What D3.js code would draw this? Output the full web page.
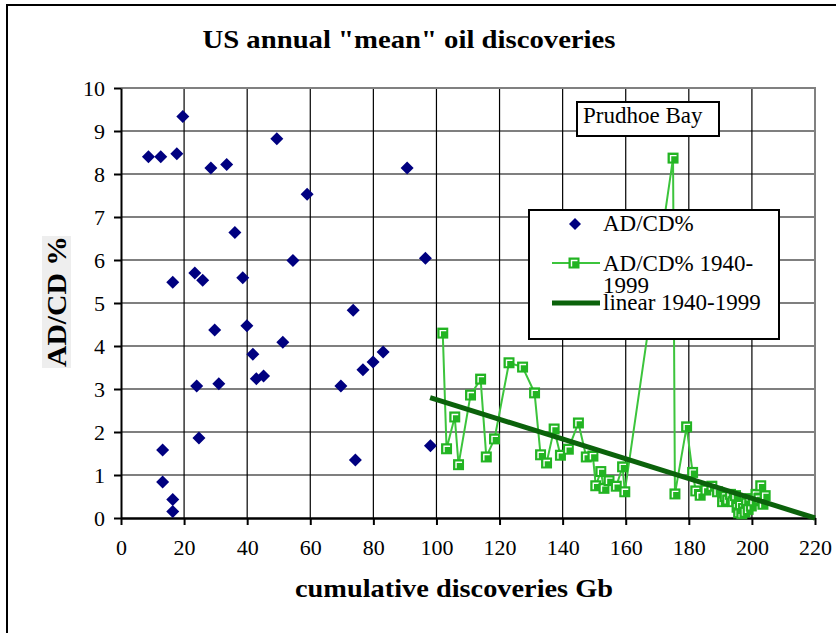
<!DOCTYPE html>
<html><head><meta charset="utf-8">
<script src="https://cdn.jsdelivr.net/npm/d3@7"></script>
<style>body{margin:0;background:#fff}svg{display:block}</style>
</head><body>
<svg id="c" width="836" height="633"></svg>
<script>
// ---- data ----
const allX = [8.7,12.6,17.7,19.6,28.5,33.5,49.4,59.0,36.1,54.5,16.4,23.4,25.9,38.6,29.7,39.9,51.3,41.8,42.9,45.2,24.0,31.0,69.7,24.7,13.2,13.2,16.4,16.4,73.6,83.1,79.9,76.7,74.3,98.1,90.7,96.5];
const allY = [8.40,8.40,8.47,9.34,8.14,8.22,8.82,7.53,6.64,5.99,5.48,5.70,5.53,5.59,4.37,4.47,4.09,3.81,3.24,3.30,3.07,3.12,3.07,1.86,1.58,0.84,0.43,0.15,4.83,3.86,3.63,3.45,1.35,1.68,8.14,6.04];
const recX = [102.0,103.2,105.8,107.0,110.8,114.0,115.8,118.4,123.0,127.3,131.1,133.0,134.9,137.3,139.3,141.8,145.0,147.5,149.6,150.5,152.1,153.1,154.7,157.0,159.0,159.7,175.0,175.6,179.3,181.2,182.2,183.6,185.4,187.3,189.1,190.7,191.5,192.3,193.2,194.0,194.8,195.3,195.8,196.3,196.8,197.3,197.8,198.3,198.8,199.3,199.8,200.5,201.3,202.2,202.8,203.5,204.2];
const recY = [4.30,1.61,2.35,1.24,2.86,3.23,1.42,1.84,3.61,3.51,2.91,1.47,1.28,2.07,1.46,1.60,2.21,1.42,1.44,0.75,1.08,0.69,0.87,0.74,1.19,0.61,8.37,0.56,2.12,1.06,0.63,0.53,0.65,0.74,0.61,0.38,0.50,0.42,0.55,0.38,0.52,0.25,0.12,0.30,0.10,0.22,0.14,0.35,0.20,0.45,0.28,0.40,0.55,0.45,0.75,0.32,0.52];
const trendX = [98, 220];
const trendY = [2.80, 0];
const xTicks = [0,20,40,60,80,100,120,140,160,180,200,220];
const yTicks = [0,1,2,3,4,5,6,7,8,9,10];
const title = 'US annual "mean" oil discoveries';
const xTitle = 'cumulative discoveries Gb';
const yTitle = 'AD/CD %';
const seriesNames = ['AD/CD%', 'AD/CD% 1940-', '1999', 'linear 1940-1999'];
const annotation = 'Prudhoe Bay';

// ---- drawing ----
const FONT = '"Liberation Serif", "Times New Roman", Tinos, Times, "DejaVu Serif", "Noto Serif", serif';
const svg = d3.select('#c');
const L = 121, R = 815, T = 88, B = 518;
const x = d3.scaleLinear().domain([0,220]).range([L,R]);
const y = d3.scaleLinear().domain([0,10]).range([B,T]);
const blue = '#000080', green = '#22b422', lineGreen = '#3cc43c', dark = '#0b620b';
const txt = (sel) => sel.append('text').attr('font-family', FONT).attr('fill','#000');

// outer frame (only top/left visible)
svg.append('path').attr('d','M7,640 L7,5 L840,5').attr('fill','none').attr('stroke','#000').attr('stroke-width',2);

// title
txt(svg).attr('x',409).attr('y',48).attr('text-anchor','middle')
  .attr('font-weight','bold').attr('font-size',25).attr('textLength',413).attr('lengthAdjust','spacingAndGlyphs').text(title);

// gridlines
const g = svg.append('g');
g.selectAll('.gx').data(xTicks.filter(d=>d>0&&d<220)).join('line')
  .attr('x1',d=>x(d)).attr('x2',d=>x(d)).attr('y1',T).attr('y2',B).attr('stroke','#000').attr('stroke-width',1.2);
g.selectAll('.gy').data(yTicks.filter(d=>d>0&&d<10)).join('line')
  .attr('x1',L).attr('x2',R).attr('y1',d=>y(d)).attr('y2',d=>y(d)).attr('stroke','#000').attr('stroke-width',1.2);
// plot border top/right gray
svg.append('path').attr('d',`M${L},${T} L${R},${T} L${R},${B}`).attr('fill','none').attr('stroke','#808080').attr('stroke-width',2);

// axes
const ax = svg.append('g').attr('transform',`translate(0,${B})`)
  .call(d3.axisBottom(x).tickValues(xTicks).tickSize(7).tickPadding(14).tickSizeOuter(0));
const ay = svg.append('g').attr('transform',`translate(${L},0)`)
  .call(d3.axisLeft(y).tickValues(yTicks).tickSize(7).tickPadding(9).tickSizeOuter(0));
[ax,ay].forEach(a=>{
  a.attr('font-family', FONT).attr('font-size',22);
  a.selectAll('path,line').attr('stroke','#000').attr('stroke-width',2);
  a.selectAll('text').attr('font-size',22).attr('fill','#000').attr('font-family',FONT);
});
ax.select('.domain').attr('stroke-width',2.5);

// axis titles
txt(svg).attr('x',454).attr('y',597).attr('text-anchor','middle')
  .attr('font-weight','bold').attr('font-size',25).attr('textLength',318).attr('lengthAdjust','spacingAndGlyphs').text(xTitle);
svg.append('rect').attr('x',42).attr('y',236).attr('width',29).attr('height',132).attr('fill','#eeeeee');
txt(svg).attr('transform','translate(66,301.5) rotate(-90)').attr('text-anchor','middle')
  .attr('font-weight','bold').attr('font-size',28).attr('textLength',131).attr('lengthAdjust','spacingAndGlyphs').text(yTitle);

// shapes
const diamond = s => `M0,${-s}L${s},0L0,${s}L${-s},0Z`;
function square(sel){
  sel.append('rect').attr('x',-5.5).attr('y',-5.5).attr('width',11).attr('height',11).attr('fill',green);
  sel.append('path').attr('d','M-2.5,3.5V-2.5H3.5').attr('fill','none').attr('stroke','#fff').attr('stroke-width',1.4);
}

// series 1940-1999 line + markers
const rec = recX.map((v,i)=>[v,recY[i]]);
svg.append('path').datum(rec).attr('d',d3.line().x(d=>x(d[0])).y(d=>y(d[1])))
  .attr('fill','none').attr('stroke',lineGreen).attr('stroke-width',2);
svg.append('g').selectAll('g').data(rec).join('g')
  .attr('transform',d=>`translate(${x(d[0])},${y(d[1])})`).each(function(){square(d3.select(this));});

// blue diamonds
svg.append('g').selectAll('path').data(allX.map((v,i)=>[v,allY[i]])).join('path')
  .attr('d',diamond(6.5)).attr('transform',d=>`translate(${x(d[0])},${y(d[1])})`).attr('fill',blue);

// trend line
svg.append('line').attr('x1',x(trendX[0])).attr('y1',y(trendY[0])).attr('x2',x(trendX[1])).attr('y2',y(trendY[1]))
  .attr('stroke',dark).attr('stroke-width',5);

// Prudhoe Bay annotation
svg.append('rect').attr('x',577).attr('y',102).attr('width',142).attr('height',34).attr('fill','#fff').attr('stroke','#000').attr('stroke-width',2);
txt(svg).attr('x',583).attr('y',123).attr('font-size',23).text(annotation);

// legend
const lg = svg.append('g');
lg.append('rect').attr('x',529).attr('y',210).attr('width',250).attr('height',129).attr('fill','#fff').attr('stroke','#000').attr('stroke-width',2);
lg.append('path').attr('d',diamond(6)).attr('transform','translate(575,224)').attr('fill',blue);
txt(lg).attr('x',603).attr('y',231).attr('font-size',23).text(seriesNames[0]);
lg.append('line').attr('x1',552).attr('x2',600).attr('y1',263).attr('y2',263).attr('stroke',lineGreen).attr('stroke-width',2);
square(lg.append('g').attr('transform','translate(574,263)'));
txt(lg).attr('x',603).attr('y',271).attr('font-size',23).text(seriesNames[1]);
txt(lg).attr('x',603).attr('y',293).attr('font-size',23).text(seriesNames[2]);
lg.append('line').attr('x1',552).attr('x2',600).attr('y1',303).attr('y2',303).attr('stroke',dark).attr('stroke-width',5);
txt(lg).attr('x',603).attr('y',310).attr('font-size',23).text(seriesNames[3]);
</script>
</body></html>
